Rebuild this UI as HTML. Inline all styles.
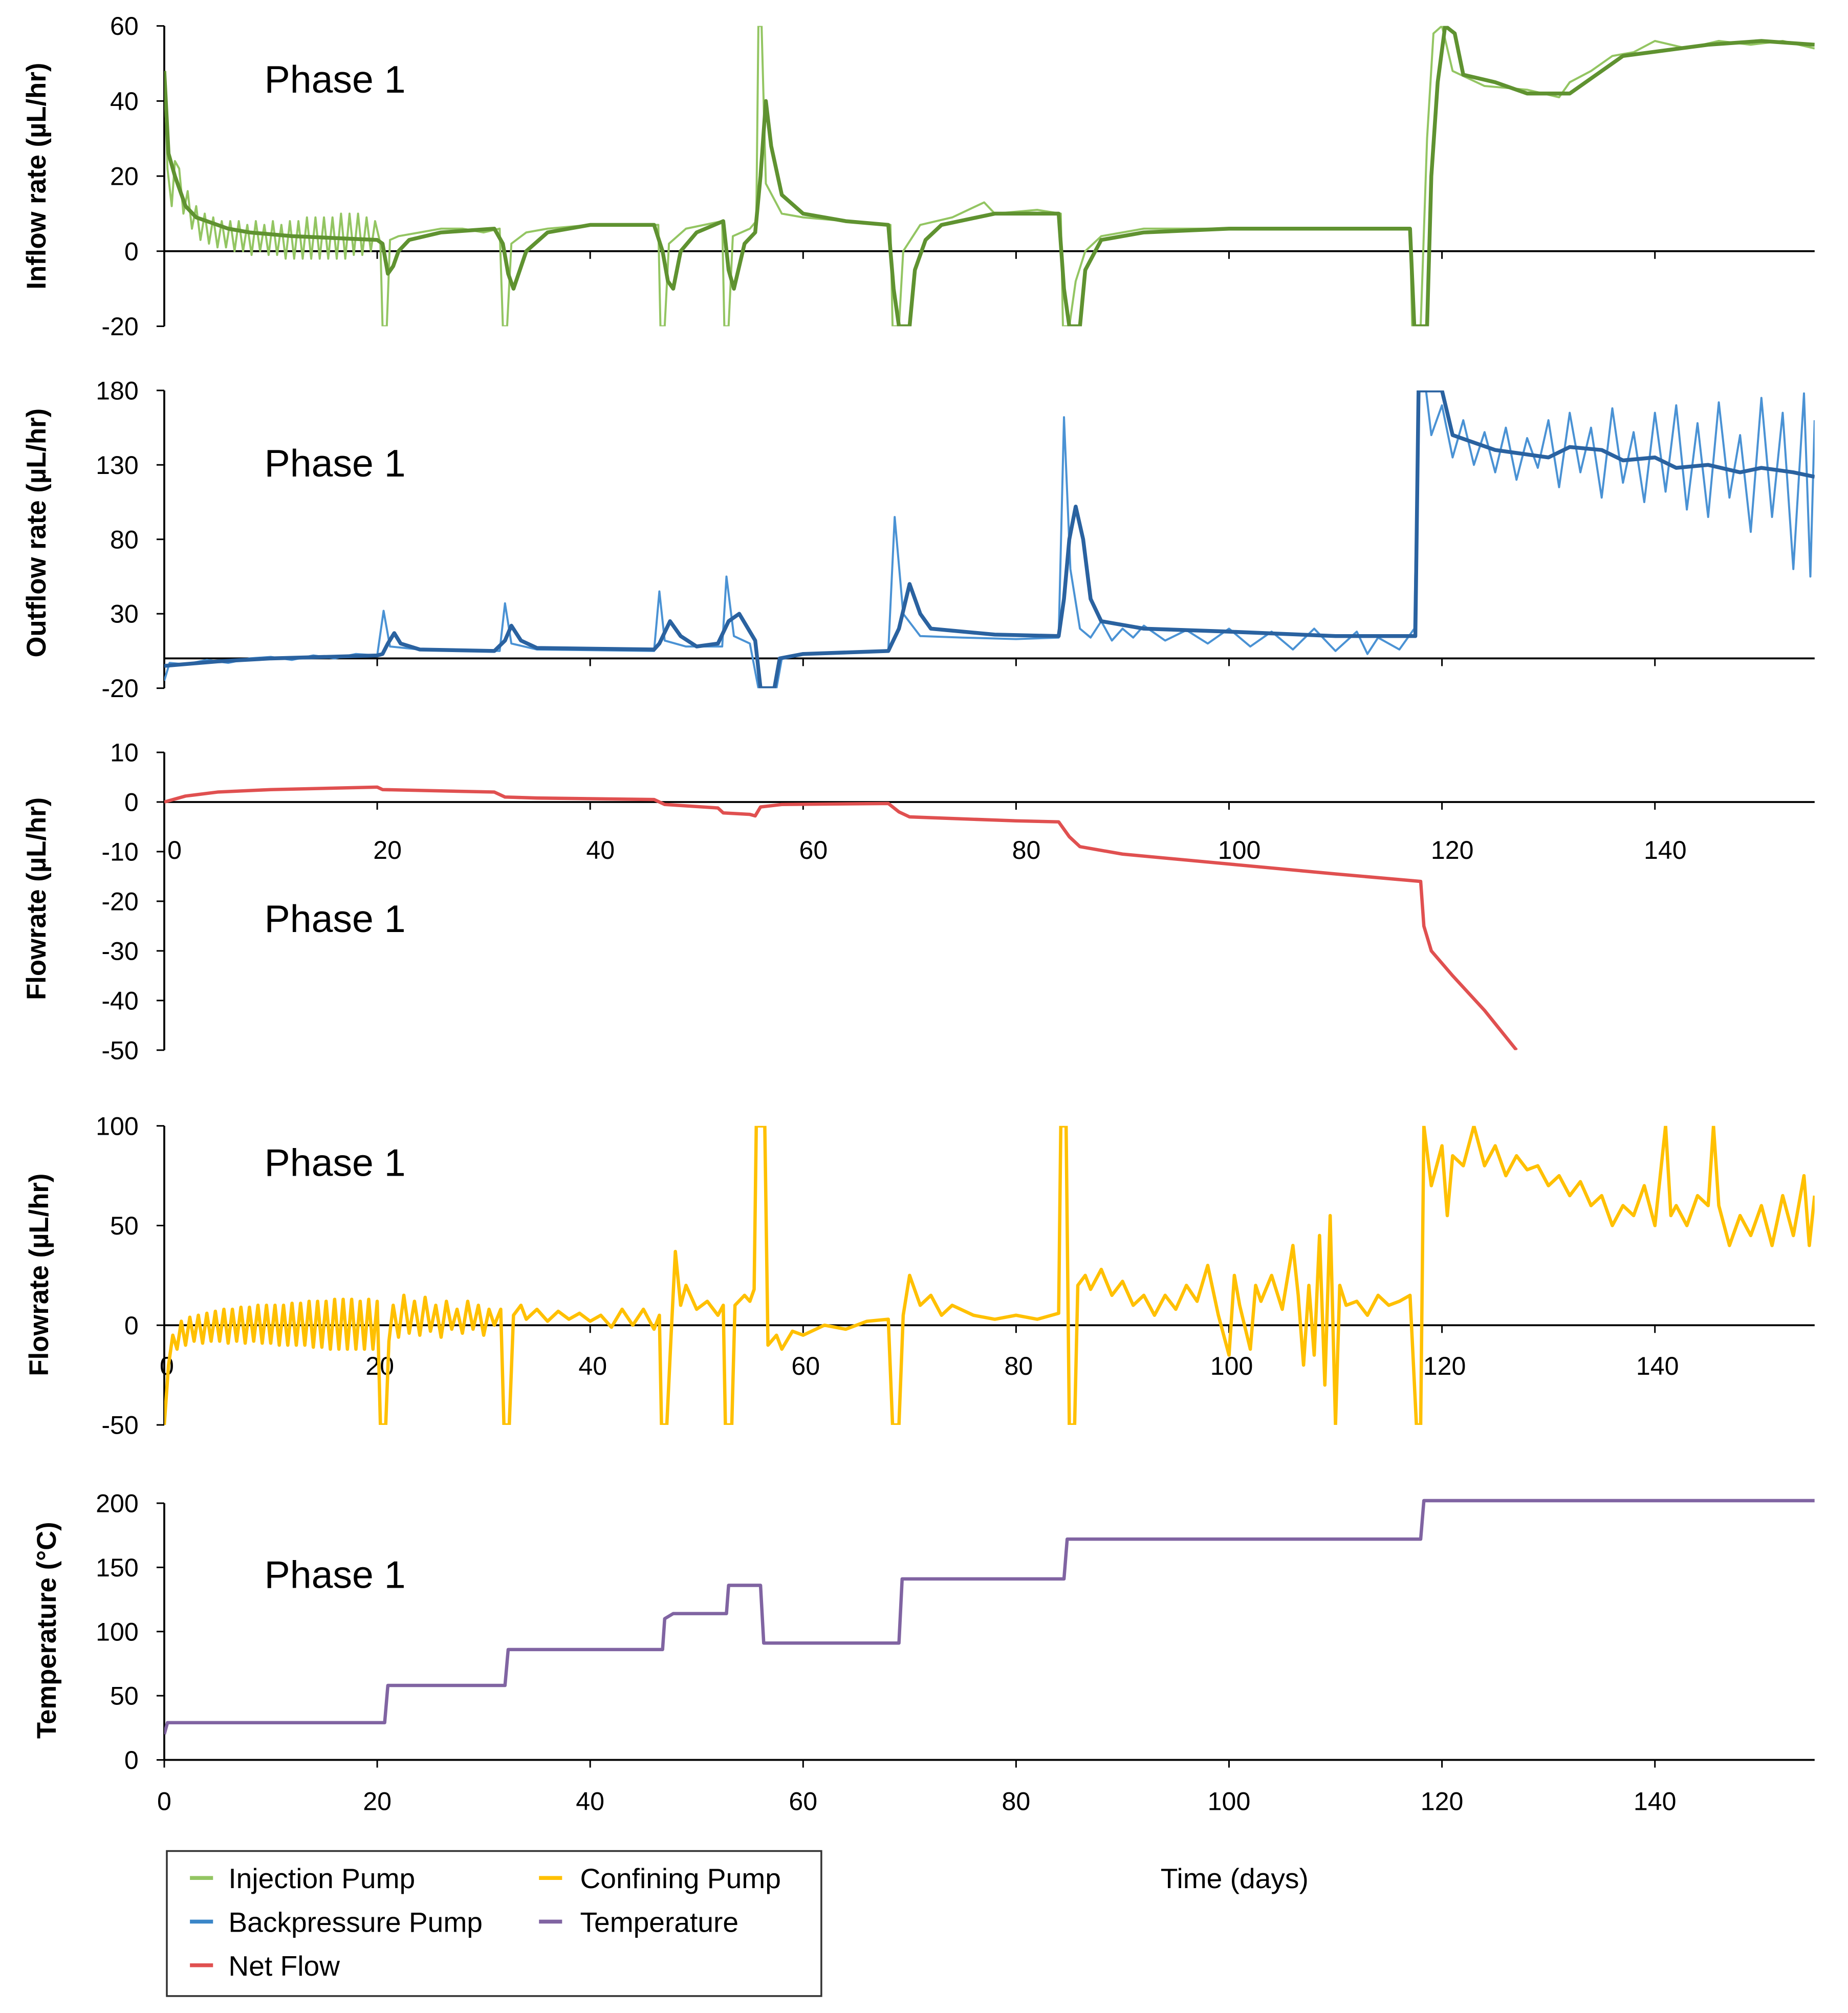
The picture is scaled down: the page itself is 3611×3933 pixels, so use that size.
<!DOCTYPE html>
<html><head><meta charset="utf-8">
<style>
html,body{margin:0;padding:0;background:#fff;}
svg{display:block;font-family:"Liberation Sans",sans-serif;}
</style></head>
<body>
<svg id="chart" width="3611" height="3933" viewBox="0 0 1440 1568" xmlns="http://www.w3.org/2000/svg"></svg>
<script>
// ---- data arrays: [day, value] pairs ----
const xTicks = [0,20,40,60,80,100,120,140];
const inflowTicks = [60,40,20,0,-20];
const outflowTicks = [180,130,80,30,-20];
const netTicks = [10,0,-10,-20,-30,-40,-50];
const confTicks = [100,50,0,-50];
const tempTicks = [200,150,100,50,0];

const injThick = [[0,48],[0.4,26],[1,20],[2,12],[3,9],[4,8],[6,6],[8,5],[12,4],[16,3.5],[20,3],[20.5,2],[21,-6],[21.5,-4],[22,0],[23,3],[26,5],[31,6],[31.8,2],[32.3,-6],[32.8,-10],[34,0],[36,5],[40,7],[46,7],[46.8,0],[47.3,-8],[47.8,-10],[48.5,0],[50,5],[52.5,8],[53,-5],[53.5,-10],[54.5,2],[55.5,5],[56,20],[56.5,40],[57,28],[58,15],[60,10],[64,8],[68,7],[68.5,-10],[69,-20],[70,-20],[70.5,-5],[71.5,3],[73,7],[78,10],[84,10],[84.5,-10],[85,-20],[86,-20],[86.5,-5],[88,3],[92,5],[100,6],[110,6],[117,6],[117.4,-20],[118.6,-20],[119,20],[119.6,45],[120.3,60],[121.2,58],[122,47],[125,45],[128,42],[132,42],[134,46],[137,52],[145,55],[150,56],[155,55]];
const injThin = [[0,48],[0.3,22],[0.7,12],[1,24],[1.4,22],[1.8,10],[2.2,16],[2.6,6],[3,12],[3.4,3],[3.8,10],[4.2,2],[4.6,9],[5,1],[5.4,8],[5.8,1],[6.2,8],[6.6,0],[7,8],[7.4,0],[7.8,7],[8.2,-1],[8.6,8],[9,0],[9.4,7],[9.8,-1],[10.2,8],[10.6,-1],[11,7],[11.4,-2],[11.8,8],[12.2,-2],[12.6,8],[13,-2],[13.4,9],[13.8,-2],[14.2,9],[14.6,-2],[15,9],[15.4,-2],[15.8,9],[16.2,-2],[16.6,10],[17,-2],[17.4,10],[17.8,-1],[18.2,10],[18.6,-1],[19,9],[19.4,0],[19.8,8],[20.3,2],[20.5,-20],[20.9,-20],[21.2,3],[22,4],[24,5],[26,6],[28,6],[30,5],[31.5,6],[31.8,-20],[32.2,-20],[32.6,2],[34,5],[36,6],[40,7],[44,7],[46.4,7],[46.6,-20],[47,-20],[47.4,2],[49,6],[52.4,8],[52.6,-20],[53,-20],[53.4,4],[55,6],[55.6,8],[55.8,60],[56.1,60],[56.5,18],[58,10],[60,9],[64,8],[68.2,7],[68.4,-20],[69,-20],[69.4,0],[71,7],[74,9],[77,13],[78,10],[82,11],[84.2,10],[84.4,-20],[85,-20],[85.6,-8],[86.5,0],[88,4],[92,6],[100,6],[110,6],[117,6],[117.2,-20],[118,-20],[118.6,30],[119.2,58],[120,60],[121,48],[124,44],[128,43],[131,41],[132,45],[134,48],[136,52],[138,53],[140,56],[143,54],[146,56],[149,55],[152,56],[155,54]];

const bpThick = [[0,-5],[5,-2],[10,0],[20,2],[20.5,3],[21,10],[21.6,17],[22.2,10],[24,6],[31,5],[32,12],[32.6,22],[33.5,12],[35,7],[46,6],[46.5,10],[47.5,25],[48.5,15],[50,8],[52,10],[53,25],[54,30],[55,18],[55.5,12],[56,-20],[57.3,-20],[57.8,0],[60,3],[68,5],[69,20],[70,50],[71,30],[72,20],[78,16],[84,15],[84.5,40],[85,80],[85.6,102],[86.3,80],[87,40],[88,25],[92,20],[100,18],[110,15],[117.5,15],[117.8,180],[120,180],[121,150],[123,145],[125,140],[127,138],[130,135],[132,142],[135,140],[137,133],[140,135],[142,128],[145,130],[148,125],[150,128],[153,125],[155,122]];
const bpThin = [[0,-15],[0.5,-3],[2,-4],[4,-1],[6,-3],[8,0],[10,1],[12,-1],[14,2],[16,0],[18,3],[20,2],[20.6,32],[21.2,8],[24,6],[31.5,5],[32,37],[32.6,10],[35,6],[46,5],[46.5,45],[47,12],[49,8],[52.4,8],[52.8,55],[53.5,15],[55,10],[55.8,-20],[57.5,-20],[58,0],[60,3],[68,5],[68.6,95],[69.4,30],[71,15],[75,14],[80,13],[84,14],[84.5,162],[85.1,60],[86,20],[87,14],[88,25],[89,12],[90,20],[91,14],[92,22],[94,12],[96,19],[98,10],[100,20],[102,8],[104,18],[106,6],[108,20],[110,5],[112,18],[113,3],[114,14],[116,6],[117.4,20],[117.8,180],[118.5,180],[119,150],[120,170],[121,135],[122,160],[123,130],[124,152],[125,125],[126,155],[127,120],[128,148],[129,128],[130,160],[131,115],[132,165],[133,125],[134,155],[135,108],[136,168],[137,118],[138,152],[139,105],[140,165],[141,112],[142,170],[143,100],[144,158],[145,95],[146,172],[147,108],[148,150],[149,85],[150,175],[151,95],[152,165],[153,60],[154,178],[154.6,55],[155,160]];

const netFlow = [[0,0],[2,1.2],[5,2],[10,2.5],[20,3],[20.5,2.5],[31,2],[32,1],[35,0.8],[46,0.5],[47,-0.5],[52,-1.2],[52.5,-2.2],[55,-2.5],[55.5,-2.8],[56,-1],[58,-0.5],[68,-0.3],[69,-2],[70,-3],[80,-3.8],[84,-4],[85,-7],[86,-9],[90,-10.5],[100,-12.5],[110,-14.5],[118,-16],[118.3,-25],[119,-30],[121,-35],[124,-42],[127,-50]];

const confining = [[0,-50],[0.4,-20],[0.8,-5],[1.2,-12],[1.6,2],[2,-10],[2.4,4],[2.8,-8],[3.2,5],[3.6,-9],[4,6],[4.4,-8],[4.8,7],[5.2,-8],[5.6,8],[6,-9],[6.4,8],[6.8,-8],[7.2,9],[7.6,-9],[8,9],[8.4,-8],[8.8,10],[9.2,-9],[9.6,10],[10,-9],[10.4,10],[10.8,-10],[11.2,10],[11.6,-10],[12,11],[12.4,-10],[12.8,11],[13.2,-10],[13.6,12],[14,-11],[14.4,12],[14.8,-11],[15.2,12],[15.6,-12],[16,13],[16.4,-12],[16.8,13],[17.2,-12],[17.6,13],[18,-12],[18.4,12],[18.8,-12],[19.2,13],[19.6,-12],[20,12],[20.3,-50],[20.8,-50],[21.1,-8],[21.5,10],[22,-6],[22.5,15],[23,-4],[23.5,12],[24,-5],[24.5,14],[25,-3],[25.5,10],[26,-6],[26.5,12],[27,-2],[27.5,8],[28,-4],[28.5,12],[29,-2],[29.5,10],[30,-5],[30.5,8],[31,0],[31.6,8],[31.9,-50],[32.4,-50],[32.8,5],[33.5,10],[34,3],[35,8],[36,2],[37,7],[38,3],[39,6],[40,2],[41,5],[42,-1],[43,8],[44,0],[45,8],[46,-2],[46.5,5],[46.7,-50],[47.2,-50],[47.6,-5],[48,37],[48.5,10],[49,20],[50,8],[51,12],[52,5],[52.5,10],[52.7,-50],[53.3,-50],[53.6,10],[54.5,15],[55,12],[55.4,18],[55.6,100],[55.9,100],[56.1,100],[56.4,100],[56.7,-10],[57.5,-5],[58,-12],[59,-3],[60,-5],[62,0],[64,-2],[66,2],[68,3],[68.4,-50],[69,-50],[69.4,5],[70,25],[71,10],[72,15],[73,5],[74,10],[76,5],[78,3],[80,5],[82,3],[84,6],[84.2,100],[84.7,100],[85,-50],[85.5,-50],[85.8,20],[86.5,25],[87,18],[88,28],[89,15],[90,22],[91,10],[92,15],[93,5],[94,15],[95,8],[96,20],[97,12],[98,30],[99,5],[100,-15],[100.5,25],[101,10],[102,-12],[102.5,20],[103,12],[104,25],[105,8],[106,40],[106.5,15],[107,-20],[107.5,20],[108,-15],[108.5,45],[109,-30],[109.5,55],[110,-50],[110.4,20],[111,10],[112,12],[113,5],[114,15],[115,10],[116,12],[117,15],[117.6,-50],[118,-50],[118.3,100],[119,70],[120,90],[120.5,55],[121,85],[122,80],[123,100],[124,80],[125,90],[126,75],[127,85],[128,78],[129,80],[130,70],[131,75],[132,65],[133,72],[134,60],[135,65],[136,50],[137,60],[138,55],[139,70],[140,50],[141,100],[141.5,55],[142,60],[143,50],[144,65],[145,60],[145.5,100],[146,60],[147,40],[148,55],[149,45],[150,60],[151,40],[152,65],[153,45],[154,75],[154.5,40],[155,65]];

const temperature = [[0,20],[0.3,29],[20.7,29],[21,58],[32,58],[32.3,86],[46.8,86],[47,110],[47.8,114],[52.8,114],[53,136],[56,136],[56.3,91],[69,91],[69.3,141],[84.5,141],[84.8,172],[118,172],[118.3,202],[155,202]];

// ---- layout ----
const NS = "http://www.w3.org/2000/svg";
const svg = document.getElementById('chart');
const X0 = 128, X1 = 1414, DMAX = 155;
const xs = d => X0 + (d/DMAX)*(X1-X0);
function mk(tag, attrs, parent){ const e=document.createElementNS(NS,tag); for(const k in attrs) e.setAttribute(k,attrs[k]); (parent||svg).appendChild(e); return e; }

const panels = [
 {id:'inflow', top:20, bot:254, vmax:60, vmin:-20, ticks:inflowTicks, title:'Inflow rate (µL/hr)', tx:30, ty:137, phaseY:72, pad:0},
 {id:'outflow', top:304, bot:536, vmax:180, vmin:-20, ticks:outflowTicks, title:'Outflow rate (µL/hr)', tx:30, ty:415, phaseY:371, pad:0},
 {id:'netflow', top:586, bot:818, vmax:10, vmin:-50, ticks:netTicks, title:'Flowrate (µL/hr)', tx:30, ty:700, phaseY:726, xlab:669, xoff:8, pad:0},
 {id:'confining', top:877, bot:1110, vmax:100, vmin:-50, ticks:confTicks, title:'Flowrate (µL/hr)', tx:32, ty:993, phaseY:916, xlab:1071, xoff:2, pad:0},
 {id:'temperature', top:1171, bot:1371, vmax:200, vmin:0, ticks:tempTicks, title:'Temperature (°C)', tx:38, ty:1270, phaseY:1237, xlab:1410, xoff:0, pad:6}
];

panels.forEach((p,i)=>{
  p.ys = v => p.bot - (v-p.vmin)/(p.vmax-p.vmin)*(p.bot-p.top);
  const g = mk('g',{});
  
  
  const cp = mk('clipPath',{id:'clip'+i},g);
  mk('rect',{x:X0,y:p.top-p.pad,width:X1-X0,height:p.bot-p.top+p.pad},cp);
  const ya = mk('line',{x1:X0,y1:p.top,x2:X0,y2:p.bot,stroke:'#000','stroke-width':1.5},g);
  
  
  p.ticks.forEach(t=>{
    const y=p.ys(t);
    mk('line',{x1:X0-6,y1:y,x2:X0,y2:y,stroke:'#000','stroke-width':1.2},g);
    const tl = mk('text',{x:X0-20,y:y+7,'text-anchor':'end','font-size':20,fill:'#000'},g);
    tl.textContent=t;
    
    
  });
  const zy = p.ys(0);
  const xa = mk('line',{x1:X0,y1:zy,x2:X1,y2:zy,stroke:'#000','stroke-width':1.5},g);
  
  
  xTicks.forEach(t=>{
    mk('line',{x1:xs(t),y1:zy,x2:xs(t),y2:zy+6,stroke:'#000','stroke-width':1.2},g);
    if(p.xlab){
      const xl = mk('text',{x:xs(t)+p.xoff,y:p.xlab,'text-anchor':'middle','font-size':20,fill:'#000'},g);
      xl.textContent=t;
      
      
    }
  });
  const at = mk('text',{x:p.tx,y:p.ty,'text-anchor':'middle','font-size':21,'font-weight':'bold',fill:'#000',transform:`rotate(-90 ${p.tx} ${p.ty})`,'dominant-baseline':'middle'},g);
  at.textContent=p.title;
  
  
  const ph = mk('text',{x:206,y:p.phaseY,'font-size':30,fill:'#000'},g);
  ph.textContent='Phase 1';
  
  
  p.g=g;
});

function line(p, i, data, color, w, name){
  const d = data.map((pt,k)=>(k?'L':'M')+xs(pt[0]).toFixed(2)+' '+p.ys(pt[1]).toFixed(2)).join(' ');
  const el = mk('path',{d:d,fill:'none',stroke:color,'stroke-width':w,'stroke-linejoin':'round','clip-path':`url(#clip${i})`},p.g);
  
  
}
line(panels[0],0,injThin,'#93c562',1.6,'injection-pump-raw-line');
line(panels[0],0,injThick,'#5f9230',3,'injection-pump-smoothed-line');
line(panels[1],1,bpThin,'#4a92d4',1.6,'backpressure-pump-raw-line');
line(panels[1],1,bpThick,'#2a62a0',3,'backpressure-pump-smoothed-line');
line(panels[2],2,netFlow,'#e05050',2.6,'net-flow-line');
line(panels[3],3,confining,'#ffc000',2.6,'confining-pump-line');
line(panels[4],4,temperature,'#8064a2',2.6,'temperature-line');

const xt = mk('text',{x:962,y:1471,'text-anchor':'middle','font-size':22,fill:'#000'});
xt.textContent='Time (days)';



const lg = mk('g',{});


mk('rect',{x:130,y:1442,width:510,height:113,fill:'#fff',stroke:'#333','stroke-width':1.4},lg);
const legendNames = ['Injection Pump','Backpressure Pump','Net Flow','Confining Pump','Temperature'];
const legendColors = ['#93c562','#3a86c8','#e05050','#ffc000','#8064a2'];
legendNames.forEach((n,k)=>{
  const col = k<3?0:1, row = k<3?k:k-3;
  const lx = col?420:148, tx = col?452:178, y = 1463+row*34;
  const ll = mk('line',{x1:lx,y1:y,x2:lx+18,y2:y,stroke:legendColors[k],'stroke-width':3},lg);
  
  
  const t = mk('text',{x:tx,y:y+8,'font-size':22,fill:'#000'},lg);
  t.textContent=n;
  
  
});
</script>
</body></html>
